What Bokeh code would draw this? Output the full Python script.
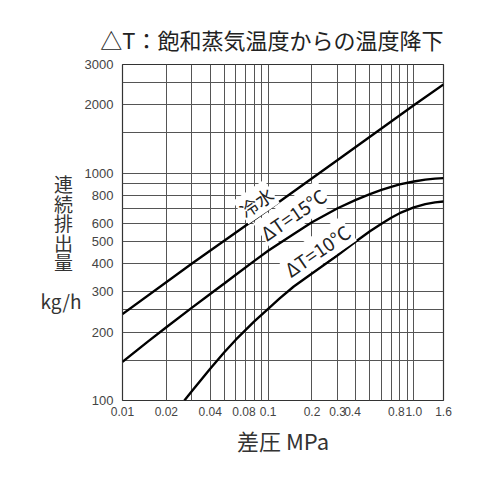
from bokeh.plotting import figure
from bokeh.models import Range1d, FixedTicker, Label
from bokeh.embed import file_html
from bokeh.resources import INLINE

# ---------------- data ----------------
cold_x = [0.01, 0.03, 0.1, 0.3, 1.0, 1.6]
cold_y = [240, 400, 690, 1140, 1985, 2450]

dt15_x = [0.01, 0.015, 0.02, 0.03, 0.04, 0.05, 0.06, 0.08, 0.1, 0.15, 0.2,
          0.3, 0.4, 0.5, 0.6, 0.7, 0.8, 1.0, 1.2, 1.4, 1.6]
dt15_y = [148, 182, 210, 256, 294, 327, 357, 410, 455, 540, 608,
          700, 762, 808, 843, 870, 891, 918, 935, 945, 950]

dt10_x = [0.0266, 0.03, 0.04, 0.05, 0.06, 0.08, 0.1, 0.12, 0.15, 0.2,
          0.3, 0.4, 0.5, 0.6, 0.7, 0.8, 1.0, 1.2, 1.4, 1.6]
dt10_y = [100, 110, 138, 163, 185, 222, 253, 281, 317, 362,
          435, 500, 555, 598, 636, 666, 706, 730, 743, 750]

x_ticks = [0.01, 0.02, 0.04, 0.08, 0.1, 0.2, 0.3, 0.4, 0.8, 1.0, 1.6]
x_tick_labels = ["0.01", "0.02", "0.04", "0.08", "0.1", "0.2", "0.3", "0.4", "0.8", "1.0", "1.6"]
x_grid = [0.01, 0.02, 0.03, 0.04, 0.05, 0.06, 0.07, 0.08, 0.09, 0.1,
          0.2, 0.3, 0.4, 0.5, 0.6, 0.7, 0.8, 0.9, 1.0, 1.6]

y_ticks = [100, 200, 300, 400, 500, 600, 800, 1000, 2000, 3000]
y_tick_labels = ["100", "200", "300", "400", "500", "600", "800", "1000", "2000", "3000"]
y_grid = [100, 150, 200, 250, 300, 400, 500, 600, 700, 800, 900, 1000,
          1500, 2000, 2500, 3000]

title_text = "△T：飽和蒸気温度からの温度降下"
x_label = "差圧 MPa"
y_label_chars = ["連", "続", "排", "出", "量"]
y_label_unit = "kg/h"
curve_labels = ["冷水", "ΔT=15°C", "ΔT=10°C"]
curve_label_sizes = ["18px", "19px", "19px"]

# label placement (data space)
curve_label_pos = [(0.0828, 746), (0.1483, 661), (0.2166, 458)]

CJK = "Noto Sans CJK JP"
NB = "\u00a0"

p = figure(width=484, height=463, x_axis_type="log", y_axis_type="log",
           x_range=Range1d(0.01, 1.6), y_range=Range1d(100, 3000),
           output_backend="svg", toolbar_location=None,
           min_border_left=122, min_border_right=41,
           min_border_top=64, min_border_bottom=63)

p.title.text = title_text
p.title.text_font = CJK
p.title.text_font_size = "22px"
p.title.text_font_style = "normal"
p.title.text_color = "#222222"
p.title.align = "right"
p.title.standoff = 19

p.outline_line_color = "#333333"
p.outline_line_width = 1.2
p.background_fill_color = "white"
p.border_fill_color = "white"

# grids
p.xgrid.ticker = FixedTicker(ticks=x_grid)
p.ygrid.ticker = FixedTicker(ticks=y_grid)
for g in (p.xgrid, p.ygrid):
    g.grid_line_color = "#555555"
    g.grid_line_width = 1
    g.grid_line_alpha = 1.0

# axes
xa = p.xaxis[0]
xa.ticker = FixedTicker(ticks=x_ticks)
x_over = {t: s for t, s in zip(x_ticks, x_tick_labels)}
x_over[0.08] = "0.08" + NB * 6   # nudged left, as in the original
x_over[0.4] = "0.4" + NB * 2
x_over[0.8] = "0.8" + NB * 2
xa.major_label_overrides = x_over
ya = p.yaxis[0]
ya.ticker = FixedTicker(ticks=y_ticks)
ya.major_label_overrides = {t: s for t, s in zip(y_ticks, y_tick_labels)}
for ax in (xa, ya):
    ax.axis_line_color = None
    ax.major_tick_line_color = None
    ax.minor_tick_line_color = None
    ax.major_tick_out = 0
    ax.major_tick_in = 0
    ax.minor_tick_out = 0
    ax.minor_tick_in = 0
    ax.major_label_text_color = "#444444"
    ax.major_label_text_font = "Liberation Sans"
xa.major_label_text_font_size = "12px"
ya.major_label_text_font_size = "13px"
xa.major_label_standoff = 4
ya.major_label_standoff = 9

xa.axis_label = x_label
xa.axis_label_text_font = CJK
xa.axis_label_text_font_size = "22px"
xa.axis_label_text_font_style = "normal"
xa.axis_label_text_color = "#333333"
xa.axis_label_standoff = 2

# stacked vertical y label: chars padded so they sit centred over "kg/h"
y_lines = [""] + [c + NB * 2 for c in y_label_chars] + ["", y_label_unit]
ya.axis_label = "\n".join(y_lines)
ya.axis_label_orientation = "horizontal"
ya.axis_label_text_font = CJK
ya.axis_label_text_font_size = "19px"
ya.axis_label_text_font_style = "normal"
ya.axis_label_text_color = "#333333"
ya.axis_label_text_align = "center"
ya.axis_label_text_line_height = 0.72
ya.axis_label_standoff = 0

# curves
for xs, ys in ((cold_x, cold_y), (dt15_x, dt15_y), (dt10_x, dt10_y)):
    p.line(xs, ys, line_color="black", line_width=2.4)

# curve labels
for txt, (lx, ly), fs in zip(curve_labels, curve_label_pos, curve_label_sizes):
    p.add_layout(Label(x=lx, y=ly, text=txt, angle=0.6, angle_units="rad",
                       text_align="center", text_baseline="middle",
                       text_font=CJK, text_font_size=fs,
                       text_color="#222222",
                       background_fill_color="white", background_fill_alpha=1.0,
                       padding=1))

open("out.html", "w").write(file_html(p, INLINE))
